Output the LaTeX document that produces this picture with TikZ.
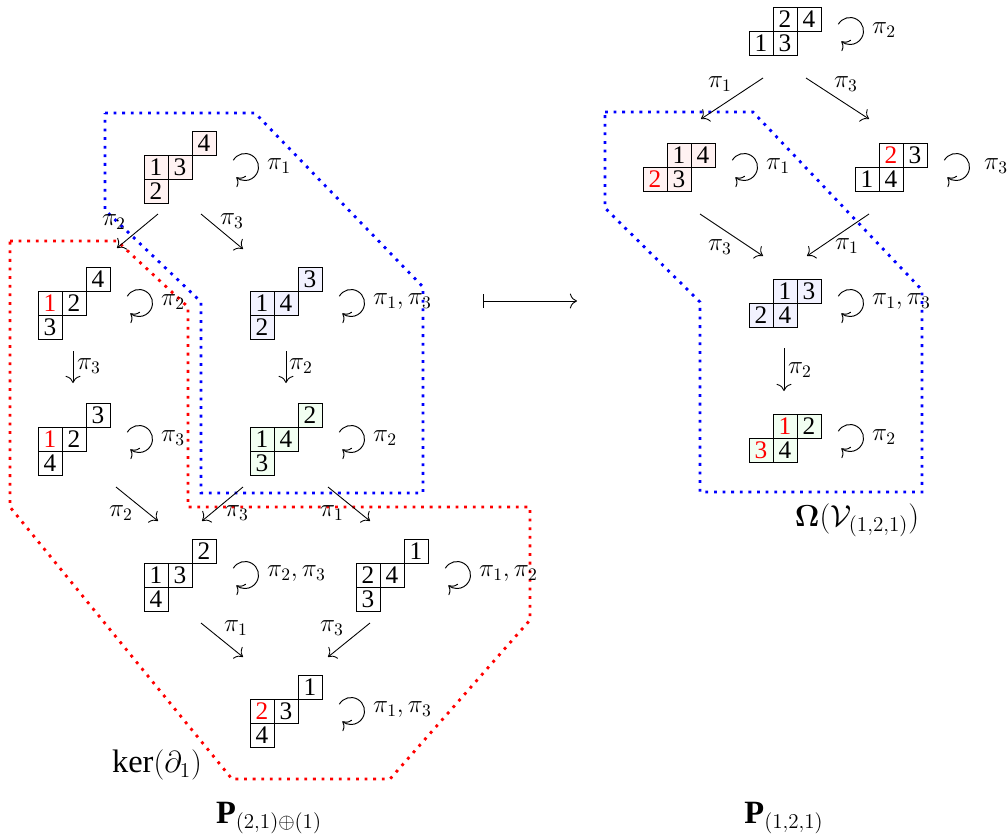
\documentclass[tikz,border=0pt]{standalone}
\usepackage{amsmath}
\usepackage{fontspec}
\setmainfont{Liberation Serif}
\usepackage{xcolor}
\usepackage{tikz}
\usetikzlibrary{calc,arrows.meta}

\newcommand{\rd}[1]{\textcolor{red}{#1}}
% three-row shape: one cell on top, two in the middle, one below
\newcommand{\tabL}[6]{%
  \node[cell, fill=#2] (#1-t) at ($(#1)+(60,-12)$) {#3};
  \node[cell, fill=#2] (#1-a) at ($(#1)+(12,12)$) {#4};
  \node[cell, fill=#2] (#1-b) at ($(#1)+(36,12)$) {#5};
  \node[cell, fill=#2] (#1-c) at ($(#1)+(12,36)$) {#6};
}
% two-row shape
\newcommand{\tabR}[6]{%
  \node[cell, fill=#2] (#1-a) at ($(#1)+(36,-12)$) {#3};
  \node[cell, fill=#2] (#1-b) at ($(#1)+(60,-12)$) {#4};
  \node[cell, fill=#2] (#1-c) at ($(#1)+(12,12)$) {#5};
  \node[cell, fill=#2] (#1-d) at ($(#1)+(36,12)$) {#6};
}
% stabiliser loop
\newcommand{\stab}[4][16]{%
  \draw[loopline] ($(#2)+(101,#3)$) ++(150:0.27cm) arc[start angle=150, end angle=-130, radius=0.27cm];
  \path ($(#2)+(101,#3)$) ++(#1,-1) node[anchor=west] (#2-s) {$#4$};
}

\begin{document}
\begin{tikzpicture}[x=0.02cm, y=-0.02cm, font=\fontsize{14.4}{17}\selectfont,
    cell/.style={draw, line width=0.45pt, minimum size=0.48cm, inner sep=0pt},
    move/.style={line width=0.5pt, -{To[scale=1.5]}},
    loopline/.style={line width=0.55pt, -{To[scale=1.4]}},
    region/.style={line width=1.6pt, dash pattern=on 1.6pt off 3.3pt},
    big/.style={font=\fontsize{18.5}{22}\selectfont}]

  \useasboundingbox (0,0) rectangle (1007,839);

  % regions
  \draw[region, blue] (105,113) -- (255,113) -- (423,287) -- (423,493) -- (201,493) -- (201,302) -- (105,210) -- cycle;
  \draw[region, red] (10,241) -- (117,241) -- (188,307) -- (188,507) -- (530,507) -- (530,620) -- (390,779) -- (232,779) -- (10,507) -- cycle;
  \draw[region, blue] (605,112) -- (753,112) -- (922,290) -- (922,492) -- (700,492) -- (700,302) -- (605,208) -- cycle;

  % left poset
  \coordinate (l1) at (144,155);
  \coordinate (l2) at (38,291);
  \coordinate (l3) at (38,427);
  \coordinate (l4) at (250,291);
  \coordinate (l5) at (250,427);
  \coordinate (l6) at (144,563);
  \coordinate (l7) at (356,563);
  \coordinate (l8) at (250,699);

  \tabL{l1}{red!5}{4}{1}{3}{2}
  \tabL{l2}{white}{4}{\rd{1}}{2}{3}
  \tabL{l3}{white}{3}{\rd{1}}{2}{4}
  \tabL{l4}{blue!5}{3}{1}{4}{2}
  \tabL{l5}{green!5}{2}{1}{4}{3}
  \tabL{l6}{white}{2}{1}{3}{4}
  \tabL{l7}{white}{1}{2}{4}{3}
  \tabL{l8}{white}{1}{\rd{2}}{3}{4}

  \stab{l1}{12}{\pi_1}
  \stab{l2}{12}{\pi_2}
  \stab{l3}{12}{\pi_3}
  \stab{l4}{12}{\pi_1,\pi_3}
  \stab{l5}{12}{\pi_2}
  \stab{l6}{12}{\pi_2,\pi_3}
  \stab{l7}{12}{\pi_1,\pi_2}
  \stab{l8}{12}{\pi_1,\pi_3}

  \draw[move] ($(l1)+(14,59)$) -- ($(l2)+(79,-43)$);
  \draw[move] ($(l1)+(57,59)$) -- ($(l4)+(-7,-42)$);
  \draw[move] ($(l2)+(35,60)$) -- ($(l3)+(35,-44)$);
  \draw[move] ($(l4)+(36,60)$) -- ($(l5)+(36,-44)$);
  \draw[move] ($(l3)+(78,60)$) -- ($(l6)+(14,-42)$);
  \draw[move] ($(l5)+(-7,60)$) -- ($(l6)+(58,-42)$);
  \draw[move] ($(l5)+(78,60)$) -- ($(l7)+(14,-42)$);
  \draw[move] ($(l6)+(57,60)$) -- ($(l8)+(-7,-42)$);
  \draw[move] ($(l7)+(14,60)$) -- ($(l8)+(78,-42)$);

  \node (m12) at (114,222) {$\pi_2$};
  \node (m14) at (232,221) {$\pi_3$};
  \node (m23) at (89,366) {$\pi_3$};
  \node (m45) at (301,366) {$\pi_2$};
  \node (m36) at (121,513) {$\pi_2$};
  \node (m56) at (237,513) {$\pi_3$};
  \node (m57) at (332,513) {$\pi_1$};
  \node (m68) at (236,628) {$\pi_1$};
  \node (m78) at (332,628) {$\pi_3$};

  \node[big] (ker) at (157,765) {$\ker(\partial_1)$};
  \node[big] (pl) at (269,818) {$\mathbf{P}_{(2,1)\oplus(1)}$};

  % the map
  \coordinate (f0) at (483,301);
  \coordinate (f1) at (577,301);
  \draw[line width=0.5pt, {Bar[width=8pt]}-{To[scale=1.5]}] (f0) -- (f1);

  % right poset
  \coordinate (r1) at (749,31);
  \coordinate (r2) at (643,167);
  \coordinate (r3) at (855,167);
  \coordinate (r4) at (749,303);
  \coordinate (r5) at (749,438);

  \tabR{r1}{white}{2}{4}{1}{3}
  \tabR{r2}{red!5}{1}{4}{\rd{2}}{3}
  \tabR{r3}{white}{\rd{2}}{3}{1}{4}
  \tabR{r4}{blue!5}{1}{3}{2}{4}
  \tabR{r5}{green!5}{\rd{1}}{2}{\rd{3}}{4}

  \stab{r1}{0}{\pi_2}
  \stab{r2}{0}{\pi_1}
  \stab[22]{r3}{0}{\pi_3}
  \stab{r4}{0}{\pi_1,\pi_3}
  \stab{r5}{0}{\pi_2}

  \draw[move] ($(r1)+(14,47)$) -- ($(r2)+(58,-48)$);
  \draw[move] ($(r1)+(57,47)$) -- ($(r3)+(14,-48)$);
  \draw[move] ($(r2)+(57,47)$) -- ($(r4)+(14,-47)$);
  \draw[move] ($(r3)+(14,47)$) -- ($(r4)+(58,-47)$);
  \draw[move] ($(r4)+(35,45)$) -- ($(r5)+(35,-47)$);

  \node (n12) at (720,84) {$\pi_1$};
  \node (n13) at (846,84) {$\pi_3$};
  \node (n24) at (720,247) {$\pi_3$};
  \node (n34) at (847,246) {$\pi_1$};
  \node (n45) at (800,370) {$\pi_2$};

  \node[big] (om) at (857,520) {$\boldsymbol{\Omega}(\mathcal{V}_{(1,2,1)})$};
  \node[big] (pr) at (784,818) {$\mathbf{P}_{(1,2,1)}$};

\end{tikzpicture}
\end{document}
